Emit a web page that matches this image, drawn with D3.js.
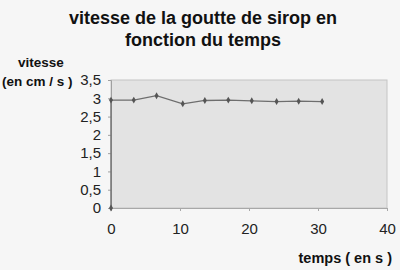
<!DOCTYPE html>
<html>
<head>
<meta charset="utf-8">
<script src="https://cdn.jsdelivr.net/npm/d3@7"></script>
<style>
  body { margin: 0; background: #f6f6f6; }
  svg { display: block; font-family: "Liberation Sans", Arial, sans-serif; }
</style>
</head>
<body>
<div id="chart"></div>
<script>
// temps (s) and vitesse (cm/s)
const temps   = [0, 0, 3.3, 6.6, 10.4, 13.6, 17, 20.4, 24, 27.2, 30.6];
const vitesse = [0, 2.95, 2.95, 3.07, 2.85, 2.94, 2.95, 2.93, 2.91, 2.92, 2.91];
const xTicks = [0, 10, 20, 30, 40];
const yTicks = [0, 0.5, 1, 1.5, 2, 2.5, 3, 3.5];

const width = 400, height = 270;
const plot = { left: 111, right: 387, top: 80, bottom: 208 };

const svg = d3.select("#chart").append("svg")
    .attr("width", width).attr("height", height);

const x = d3.scaleLinear().domain([0, 40]).range([plot.left, plot.right]);
const y = d3.scaleLinear().domain([0, 3.5]).range([plot.bottom, plot.top]);
const fmt = d => String(d).replace(".", ",");

// plot area
svg.append("rect")
    .attr("x", plot.left).attr("y", plot.top)
    .attr("width", plot.right - plot.left).attr("height", plot.bottom - plot.top)
    .attr("fill", "#e3e3e3")
    .attr("stroke", "#c4c4c4");

// y axis
const yAxis = svg.append("g")
    .attr("transform", `translate(${plot.left},0)`)
    .call(d3.axisLeft(y).tickValues(yTicks).tickFormat(fmt).tickSize(3).tickPadding(7));
yAxis.select(".domain").attr("stroke", "#a0a0a0");
yAxis.selectAll(".tick line").attr("stroke", "#a0a0a0");
yAxis.selectAll("text").attr("font-size", 15).attr("fill", "#222");

// x axis
const xAxis = svg.append("g")
    .attr("transform", `translate(0,${plot.bottom})`)
    .call(d3.axisBottom(x).tickValues(xTicks).tickSize(3).tickPadding(12));
xAxis.select(".domain").attr("stroke", "#a8a8a8");
xAxis.selectAll(".tick line").attr("stroke", "#a8a8a8");
xAxis.selectAll("text").attr("font-size", 15).attr("fill", "#222");

// series
const pts = temps.map((t, i) => [t, vitesse[i]]);
svg.append("path")
    .datum(pts)
    .attr("fill", "none")
    .attr("stroke", "#6e6e6e")
    .attr("stroke-width", 1.3)
    .attr("d", d3.line().x(d => x(d[0])).y(d => y(d[1])));

svg.selectAll(".pt").data(pts).enter().append("path")
    .attr("class", "pt")
    .attr("transform", d => `translate(${x(d[0])},${y(d[1])})`)
    .attr("d", d3.symbol(d3.symbolDiamond, 14))
    .attr("fill", "#555");

// titles
const title = svg.append("text")
    .attr("text-anchor", "middle")
    .attr("font-weight", "bold").attr("font-size", 18).attr("fill", "#111");
title.append("tspan").attr("x", 203).attr("y", 24).text("vitesse de la goutte de sirop en");
title.append("tspan").attr("x", 203).attr("y", 46).text("fonction du temps");

svg.append("text").attr("x", 41).attr("y", 67).attr("text-anchor", "middle")
    .attr("font-weight", "bold").attr("font-size", 13.5).attr("fill", "#111")
    .text("vitesse");
svg.append("text").attr("x", 2).attr("y", 86)
    .attr("font-weight", "bold").attr("font-size", 13.5).attr("fill", "#111")
    .text("(en cm / s )");

svg.append("text").attr("x", 392).attr("y", 263).attr("text-anchor", "end")
    .attr("font-weight", "bold").attr("font-size", 14.5).attr("fill", "#111")
    .text("temps ( en s )");
</script>
</body>
</html>
